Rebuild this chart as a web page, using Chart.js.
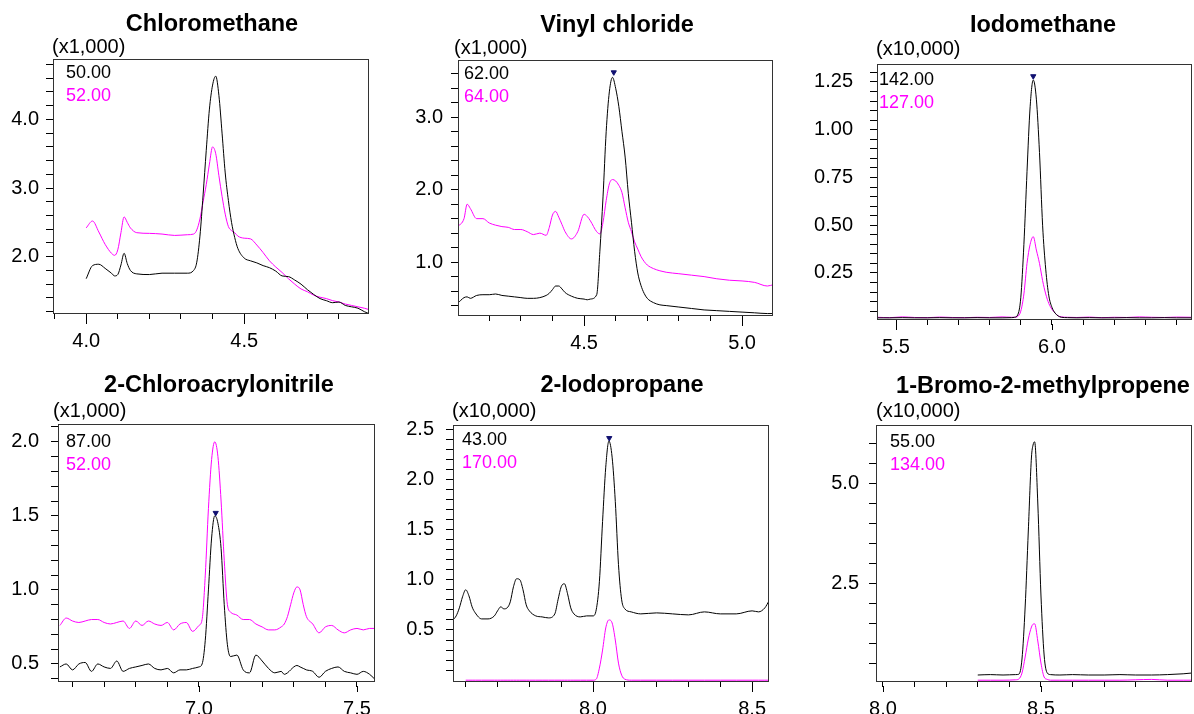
<!DOCTYPE html>
<html>
<head>
<meta charset="utf-8">
<script src="https://cdn.jsdelivr.net/npm/chart.js@4.4.0/dist/chart.umd.min.js"></script>
<style>
  html, body { margin: 0; padding: 0; background: #fff; }
  #wrap { position: relative; width: 1194px; height: 714px; overflow: hidden; }
  canvas { position: absolute; }
</style>
</head>
<body>
<div id="wrap">
  <canvas id="c1" width="398" height="357" style="left:0;top:0"></canvas>
  <canvas id="c2" width="398" height="357" style="left:398px;top:0"></canvas>
  <canvas id="c3" width="398" height="357" style="left:796px;top:0"></canvas>
  <canvas id="c4" width="398" height="357" style="left:0;top:357px"></canvas>
  <canvas id="c5" width="398" height="357" style="left:398px;top:357px"></canvas>
  <canvas id="c6" width="398" height="357" style="left:796px;top:357px"></canvas>
</div>
<script>
// retention time (min) and intensity in displayed units (x1,000 or x10,000)

// Chloromethane, m/z 50 and 52
const chloroTime = [4.00, 4.02, 4.04, 4.06, 4.08, 4.09, 4.10, 4.11, 4.12, 4.13, 4.14, 4.16, 4.20, 4.24, 4.28, 4.32, 4.34, 4.35, 4.36, 4.37, 4.38, 4.39, 4.40, 4.41, 4.42, 4.43, 4.44, 4.45, 4.46, 4.47, 4.48, 4.50, 4.52, 4.54, 4.56, 4.58, 4.60, 4.62, 4.64, 4.66, 4.68, 4.70, 4.72, 4.74, 4.76, 4.78, 4.80, 4.82, 4.84, 4.86, 4.88, 4.895]
const chloroIon50 = [1.68, 1.87, 1.89, 1.83, 1.76, 1.72, 1.74, 1.88, 2.05, 1.90, 1.80, 1.75, 1.74, 1.76, 1.76, 1.76, 1.80, 1.92, 2.30, 2.90, 3.55, 4.15, 4.50, 4.63, 4.35, 3.80, 3.22, 2.82, 2.50, 2.28, 2.12, 1.98, 1.94, 1.91, 1.87, 1.84, 1.79, 1.72, 1.71, 1.66, 1.60, 1.52, 1.45, 1.39, 1.36, 1.33, 1.34, 1.29, 1.27, 1.25, 1.20, 1.17]
const chloroIon52 = [2.42, 2.52, 2.36, 2.18, 2.05, 2.02, 2.10, 2.35, 2.58, 2.50, 2.42, 2.35, 2.34, 2.33, 2.31, 2.32, 2.33, 2.39, 2.55, 2.80, 3.05, 3.35, 3.60, 3.50, 3.18, 2.88, 2.62, 2.44, 2.38, 2.35, 2.30, 2.27, 2.26, 2.17, 2.06, 1.94, 1.85, 1.77, 1.68, 1.60, 1.53, 1.49, 1.44, 1.41, 1.39, 1.36, 1.34, 1.31, 1.29, 1.27, 1.25, 1.23]

// Vinyl chloride, m/z 62 and 64
const vinylTime = [4.10, 4.12, 4.13, 4.14, 4.16, 4.18, 4.20, 4.22, 4.24, 4.26, 4.28, 4.30, 4.32, 4.34, 4.36, 4.38, 4.39, 4.40, 4.41, 4.42, 4.43, 4.44, 4.46, 4.48, 4.50, 4.51, 4.52, 4.54, 4.55, 4.56, 4.57, 4.58, 4.59, 4.60, 4.61, 4.62, 4.63, 4.64, 4.65, 4.66, 4.67, 4.68, 4.69, 4.70, 4.72, 4.74, 4.76, 4.80, 4.84, 4.88, 4.92, 4.96, 5.00, 5.04, 5.08, 5.10]
const vinylIon62 = [0.43, 0.51, 0.52, 0.50, 0.54, 0.55, 0.55, 0.56, 0.54, 0.53, 0.52, 0.51, 0.50, 0.50, 0.51, 0.54, 0.57, 0.62, 0.67, 0.67, 0.63, 0.58, 0.53, 0.50, 0.49, 0.48, 0.49, 0.55, 1.15, 1.90, 2.80, 3.35, 3.55, 3.40, 3.15, 2.80, 2.45, 1.95, 1.55, 1.15, 0.85, 0.68, 0.57, 0.50, 0.44, 0.41, 0.40, 0.38, 0.36, 0.34, 0.33, 0.32, 0.31, 0.30, 0.29, 0.29]
const vinylIon64 = [1.49, 1.60, 1.80, 1.74, 1.60, 1.60, 1.54, 1.51, 1.49, 1.48, 1.45, 1.45, 1.42, 1.38, 1.40, 1.37, 1.48, 1.65, 1.70, 1.62, 1.52, 1.42, 1.32, 1.42, 1.66, 1.63, 1.57, 1.42, 1.39, 1.55, 1.85, 2.08, 2.14, 2.12, 2.06, 1.96, 1.75, 1.55, 1.42, 1.28, 1.18, 1.08, 1.01, 0.96, 0.91, 0.88, 0.86, 0.84, 0.82, 0.80, 0.77, 0.75, 0.74, 0.72, 0.67, 0.69]
const vinylPeak = [4.594, 3.62]

// Iodomethane, m/z 142 and 127
const iodoTime = [5.44, 5.48, 5.52, 5.56, 5.60, 5.64, 5.68, 5.72, 5.76, 5.80, 5.84, 5.87, 5.88, 5.89, 5.90, 5.91, 5.92, 5.93, 5.94, 5.95, 5.96, 5.97, 5.98, 5.99, 6.00, 6.01, 6.02, 6.03, 6.05, 6.08, 6.12, 6.16, 6.20, 6.24, 6.28, 6.32, 6.36, 6.40, 6.45]
const iodoIon142 = [0.015, 0.015, 0.016, 0.015, 0.015, 0.016, 0.015, 0.015, 0.016, 0.015, 0.015, 0.016, 0.018, 0.03, 0.12, 0.40, 0.78, 1.12, 1.26, 1.16, 0.88, 0.50, 0.27, 0.13, 0.07, 0.04, 0.025, 0.018, 0.016, 0.015, 0.016, 0.015, 0.015, 0.016, 0.015, 0.015, 0.016, 0.015, 0.015]
const iodoIon127 = [0.018, 0.016, 0.020, 0.017, 0.016, 0.019, 0.017, 0.016, 0.018, 0.017, 0.020, 0.018, 0.018, 0.022, 0.05, 0.14, 0.30, 0.40, 0.44, 0.37, 0.30, 0.21, 0.14, 0.09, 0.06, 0.04, 0.025, 0.02, 0.018, 0.017, 0.019, 0.016, 0.018, 0.017, 0.020, 0.018, 0.017, 0.019, 0.018]
const iodoPeak = [5.94, 1.28]

// 2-Chloroacrylonitrile, m/z 87 and 52
const acrylTime = [6.56, 6.58, 6.60, 6.62, 6.64, 6.66, 6.68, 6.70, 6.72, 6.74, 6.76, 6.78, 6.80, 6.82, 6.84, 6.86, 6.88, 6.90, 6.92, 6.94, 6.96, 6.98, 7.00, 7.01, 7.02, 7.03, 7.04, 7.05, 7.06, 7.07, 7.08, 7.09, 7.10, 7.12, 7.14, 7.16, 7.18, 7.20, 7.22, 7.24, 7.26, 7.27, 7.28, 7.29, 7.30, 7.31, 7.32, 7.33, 7.34, 7.36, 7.38, 7.40, 7.42, 7.44, 7.46, 7.48, 7.50, 7.52, 7.54, 7.555]
const acrylIon87 = [0.48, 0.50, 0.46, 0.50, 0.51, 0.45, 0.50, 0.48, 0.47, 0.52, 0.45, 0.47, 0.48, 0.49, 0.50, 0.47, 0.46, 0.47, 0.44, 0.46, 0.46, 0.47, 0.48, 0.50, 0.66, 1.00, 1.35, 1.50, 1.45, 1.28, 0.90, 0.63, 0.55, 0.56, 0.46, 0.44, 0.56, 0.52, 0.47, 0.44, 0.45, 0.43, 0.44, 0.46, 0.48, 0.49, 0.48, 0.47, 0.46, 0.45, 0.41, 0.45, 0.47, 0.48, 0.45, 0.44, 0.43, 0.45, 0.43, 0.40]
const acrylIon52 = [0.76, 0.81, 0.79, 0.78, 0.79, 0.80, 0.80, 0.78, 0.77, 0.78, 0.79, 0.74, 0.79, 0.76, 0.79, 0.77, 0.76, 0.78, 0.73, 0.77, 0.78, 0.72, 0.76, 0.80, 1.10, 1.55, 1.88, 2.00, 1.90, 1.60, 1.20, 0.90, 0.85, 0.83, 0.80, 0.80, 0.77, 0.75, 0.73, 0.73, 0.75, 0.77, 0.82, 0.90, 0.98, 1.02, 1.00, 0.90, 0.82, 0.77, 0.71, 0.75, 0.76, 0.73, 0.71, 0.73, 0.74, 0.73, 0.74, 0.74]
const acrylPeak = [7.053, 1.52]

// 2-Iodopropane, m/z 43 and 170
const iodopropTime = [7.56, 7.57, 7.58, 7.59, 7.60, 7.61, 7.62, 7.63, 7.65, 7.67, 7.69, 7.70, 7.71, 7.72, 7.73, 7.74, 7.75, 7.76, 7.77, 7.78, 7.79, 7.80, 7.82, 7.84, 7.86, 7.88, 7.89, 7.90, 7.91, 7.92, 7.93, 7.94, 7.96, 7.98, 8.00, 8.01, 8.02, 8.03, 8.04, 8.05, 8.06, 8.07, 8.08, 8.09, 8.10, 8.12, 8.15, 8.20, 8.25, 8.30, 8.35, 8.40, 8.45, 8.50, 8.52, 8.54, 8.553]
const iodopropIon43 = [0.60, 0.64, 0.72, 0.83, 0.90, 0.84, 0.73, 0.67, 0.61, 0.61, 0.64, 0.69, 0.73, 0.71, 0.72, 0.78, 0.93, 1.01, 1.00, 0.90, 0.75, 0.69, 0.64, 0.63, 0.62, 0.66, 0.80, 0.93, 0.96, 0.86, 0.72, 0.66, 0.63, 0.64, 0.64, 0.70, 0.98, 1.58, 2.12, 2.38, 2.22, 1.78, 1.15, 0.80, 0.71, 0.68, 0.66, 0.67, 0.66, 0.65, 0.68, 0.66, 0.66, 0.69, 0.68, 0.72, 0.79]
const iodopropIon170 = [null, null, null, null, 0, 0, 0, 0, 0, 0, 0, 0, 0, 0, 0, 0, 0, 0, 0, 0, 0, 0, 0, 0, 0, 0, 0, 0, 0, 0, 0, 0, 0, 0, 0, 0.01, 0.12, 0.30, 0.52, 0.60, 0.57, 0.40, 0.17, 0.05, 0.01, 0, 0, 0, 0, 0, 0, 0, 0, 0, 0, 0, 0]
const iodopropPeak = [8.051, 2.41]

// 1-Bromo-2-methylpropene, m/z 55 and 134
const bromoTime = [8.30, 8.34, 8.38, 8.42, 8.43, 8.44, 8.45, 8.46, 8.47, 8.475, 8.48, 8.49, 8.50, 8.51, 8.52, 8.53, 8.56, 8.60, 8.65, 8.70, 8.75, 8.80, 8.85, 8.90, 8.95, 8.978]
const bromoIon55 = [0.20, 0.21, 0.20, 0.21, 0.22, 0.60, 1.90, 3.80, 5.65, 5.95, 6.03, 4.50, 2.20, 0.70, 0.25, 0.21, 0.20, 0.21, 0.20, 0.20, 0.21, 0.20, 0.20, 0.21, 0.23, 0.25]
const bromoIon134 = [0.07, 0.07, 0.07, 0.08, 0.10, 0.25, 0.65, 1.10, 1.40, 1.47, 1.48, 1.05, 0.50, 0.15, 0.09, 0.07, 0.07, 0.07, 0.07, 0.07, 0.07, 0.08, 0.09, 0.07, 0.07, 0.07]

const FONT = '"Liberation Sans", Arial, sans-serif'
const MAGENTA = '#ff00ff'

const panels = [
    { id: 'c1', title: 'Chloromethane', mult: '(x1,000)', ions: ['50.00', '52.00'],
      time: chloroTime, a: chloroIon50, b: chloroIon52, peak: null,
      x: [3.895, 4.895], y: [1.18, 4.88], yStep: 0.2, yMajor: 1, yDec: 1,
      box: { l: 53, t: 59, r: 369, b: 313 }, yGap: 14,
      titleX: 212, titleY: 31, multX: 52, multY: 53, ionX: 66, ionY: 78 },
    { id: 'c2', title: 'Vinyl chloride', mult: '(x1,000)', ions: ['62.00', '64.00'],
      time: vinylTime, a: vinylIon62, b: vinylIon64, peak: vinylPeak,
      x: [4.101, 5.098], y: [0.27, 3.79], yStep: 0.2, yMajor: 1, yDec: 1,
      box: { l: 60, t: 60, r: 375, b: 315 }, yGap: 15,
      titleX: 219, titleY: 32, multX: 56, multY: 54, ionX: 66, ionY: 79 },
    { id: 'c3', title: 'Iodomethane', mult: '(x10,000)', ions: ['142.00', '127.00'],
      time: iodoTime, a: iodoIon142, b: iodoIon127, peak: iodoPeak,
      x: [5.439, 6.449], y: [0.009, 1.344], yStep: 0.05, yMajor: 0.25, yDec: 2,
      box: { l: 81, t: 64, r: 396, b: 319 }, yGap: 24,
      titleX: 247, titleY: 32, multX: 80, multY: 55, ionX: 83, ionY: 85 },
    { id: 'c4', title: '2-Chloroacrylonitrile', mult: '(x1,000)', ions: ['87.00', '52.00'],
      time: acrylTime, a: acrylIon87, b: acrylIon52, peak: acrylPeak,
      x: [6.554, 7.557], y: [0.385, 2.12], yStep: 0.1, yMajor: 0.5, yDec: 1,
      box: { l: 58, t: 67, r: 375, b: 324 }, yGap: 19,
      titleX: 219, titleY: 35, multX: 53, multY: 60, ionX: 66, ionY: 90 },
    { id: 'c5', title: '2-Iodopropane', mult: '(x10,000)', ions: ['43.00', '170.00'],
      time: iodopropTime, a: iodopropIon43, b: iodopropIon170, peak: iodopropPeak,
      x: [7.56, 8.553], y: [-0.008, 2.54], yStep: 0.1, yMajor: 0.5, yDec: 1,
      box: { l: 55, t: 68, r: 371, b: 324 }, yGap: 19,
      titleX: 224, titleY: 35, multX: 54, multY: 60, ionX: 64, ionY: 88 },
    { id: 'c6', title: '1-Bromo-2-methylpropene', mult: '(x10,000)', ions: ['55.00', '134.00'],
      time: bromoTime, a: bromoIon55, b: bromoIon134, peak: null,
      x: [7.978, 8.978], y: [0.05, 6.45], yStep: 0.5, yMajor: 2.5, yDec: 1,
      box: { l: 80, t: 68, r: 396, b: 324 }, yGap: 17,
      titleX: 247, titleY: 36, multX: 80, multY: 60, ionX: 94, ionY: 90 }
]

function buildTicks(min, max, step) {
    const out = []
    for (let k = Math.ceil(min / step - 1e-6); k * step <= max + 1e-9; k++) {
        const v = +(k * step).toFixed(4)
        if (v > 1e-9) out.push({ value: v })
    }
    return out
}

function isMajor(v, major) {
    const r = v / major
    return Math.abs(r - Math.round(r)) < 1e-6
}

// frame, titles, ion labels, longer major x ticks
const decor = {
    id: 'decor',
    afterDraw(chart, args, p) {
        const { ctx, chartArea: a, scales } = chart
        ctx.save()
        ctx.strokeStyle = '#333'
        ctx.lineWidth = 1
        ctx.strokeRect(Math.round(a.left) + 0.5, Math.round(a.top) + 0.5,
            Math.round(a.right - a.left) - 1, Math.round(a.bottom - a.top))

        ctx.strokeStyle = '#000'
        ctx.beginPath()
        scales.x.ticks.forEach(t => {
            if (!isMajor(t.value, 0.5)) return
            const px = Math.round(scales.x.getPixelForValue(t.value)) + 0.5
            ctx.moveTo(px, a.bottom + 5)
            ctx.lineTo(px, a.bottom + 11)
        })
        ctx.stroke()

        ctx.fillStyle = '#000'
        ctx.textBaseline = 'alphabetic'
        ctx.textAlign = 'center'
        ctx.font = 'bold 23.5px ' + FONT
        ctx.fillText(p.title, p.titleX, p.titleY)

        ctx.textAlign = 'left'
        ctx.font = '20px ' + FONT
        ctx.fillText(p.mult, p.multX, p.multY)

        ctx.font = '18px ' + FONT
        ctx.fillText(p.ions[0], p.ionX, p.ionY)
        ctx.fillStyle = MAGENTA
        ctx.fillText(p.ions[1], p.ionX, p.ionY + 23)
        ctx.restore()
    }
}

panels.forEach(p => {
    const canvas = document.getElementById(p.id)
    const W = canvas.width
    const H = canvas.height
    const points = vals => p.time.map((t, i) => ({ x: t, y: vals[i] }))

    const datasets = []
    if (p.peak) {
        datasets.push({
            data: [{ x: p.peak[0], y: p.peak[1] }],
            showLine: false,
            pointStyle: 'triangle',
            rotation: 180,
            pointRadius: 3,
            backgroundColor: '#101070',
            borderColor: '#101070',
            borderWidth: 1
        })
    }
    datasets.push({
        data: points(p.a),
        borderColor: '#000',
        borderWidth: 1,
        pointRadius: 0,
        cubicInterpolationMode: 'monotone'
    })
    datasets.push({
        data: points(p.b),
        borderColor: MAGENTA,
        borderWidth: 1,
        pointRadius: 0,
        spanGaps: false,
        cubicInterpolationMode: 'monotone'
    })

    new Chart(canvas, {
        type: 'line',
        data: { datasets },
        options: {
            responsive: false,
            animation: false,
            events: [],
            layout: {
                autoPadding: false,
                padding: { top: p.box.t, right: W - p.box.r, left: 0, bottom: 0 }
            },
            plugins: {
                legend: { display: false },
                tooltip: { enabled: false },
                decor: p
            },
            scales: {
                x: {
                    type: 'linear',
                    min: p.x[0],
                    max: p.x[1],
                    afterBuildTicks: s => { s.ticks = buildTicks(p.x[0], p.x[1], 0.1) },
                    afterFit: s => { s.height = H - p.box.b; s.paddingLeft = 0; s.paddingRight = 0 },
                    ticks: {
                        autoSkip: false,
                        maxRotation: 0,
                        padding: 10,
                        color: '#000',
                        font: { family: FONT, size: 20 },
                        callback: v => isMajor(v, 0.5) ? v.toFixed(1) : ''
                    },
                    grid: { drawOnChartArea: false, tickLength: 6, color: '#000' },
                    border: { display: false }
                },
                y: {
                    type: 'linear',
                    min: p.y[0],
                    max: p.y[1],
                    afterBuildTicks: s => { s.ticks = buildTicks(p.y[0], p.y[1], p.yStep) },
                    afterFit: s => { s.width = p.box.l; s.paddingTop = 0; s.paddingBottom = 0 },
                    ticks: {
                        autoSkip: false,
                        padding: p.yGap - 7,
                        color: '#000',
                        font: { family: FONT, size: 20 },
                        callback: v => isMajor(v, p.yMajor) ? v.toFixed(p.yDec) : ''
                    },
                    grid: { drawOnChartArea: false, tickLength: 7, color: '#000' },
                    border: { display: false }
                }
            }
        },
        plugins: [decor]
    })
})
</script>
</body>
</html>
